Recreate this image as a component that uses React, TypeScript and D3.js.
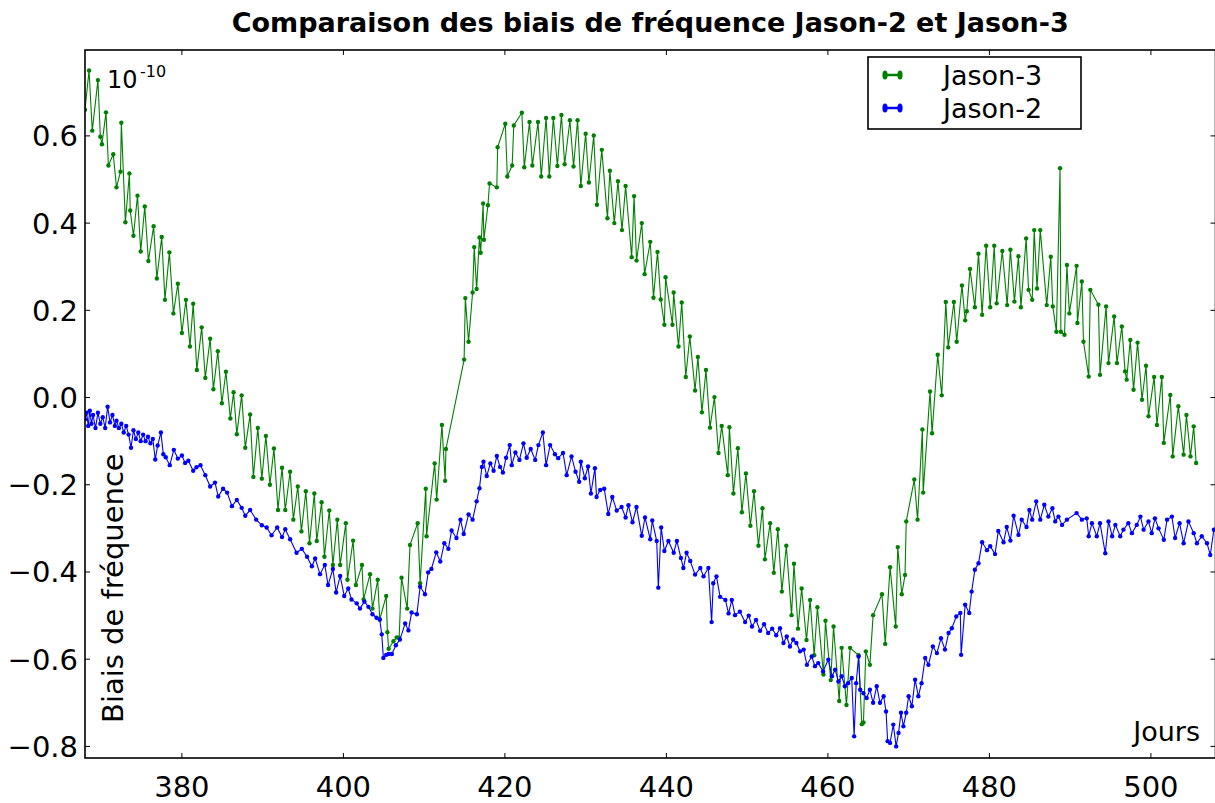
import React from 'react';
import * as d3 from 'd3';

const xTicks = [380, 400, 420, 440, 460, 480, 500];
const yTicks = [-0.8, -0.6, -0.4, -0.2, 0.0, 0.2, 0.4, 0.6];
const xDomain: [number, number] = [368, 508];
const yDomain: [number, number] = [-0.8266, 0.797];

const titleText = 'Comparaison des biais de fréquence Jason-2 et Jason-3';
const seriesNames = ['Jason-3', 'Jason-2'];
const seriesColors = ['#008000', '#0000ff'];

// [jour, biais (x 1e-10)]
const jason3: [number, number][] = [
  [368.0, 0.66], [368.5, 0.75], [368.9, 0.612], [369.6, 0.728], [369.9, 0.598], [370.1, 0.581],
  [370.6, 0.654], [370.9, 0.532], [371.5, 0.558], [371.9, 0.482], [372.4, 0.518], [372.5, 0.63],
  [373.0, 0.402], [373.5, 0.514], [373.6, 0.429], [374.0, 0.371], [374.5, 0.463], [374.9, 0.335],
  [375.4, 0.438], [375.85, 0.313], [376.5, 0.393], [376.9, 0.273], [377.5, 0.368], [377.9, 0.224],
  [378.45, 0.333], [378.95, 0.193], [379.5, 0.261], [380.0, 0.148], [380.5, 0.224], [381.0, 0.117],
  [381.4, 0.215], [381.85, 0.063], [382.45, 0.161], [382.9, 0.045], [383.5, 0.135], [383.9, 0.019],
  [384.45, 0.106], [384.95, -0.013], [385.45, 0.059], [386.0, -0.048], [386.4, 0.012], [386.8, -0.084],
  [387.4, 0.005], [387.85, -0.115], [388.45, -0.039], [388.85, -0.182], [389.4, -0.07], [389.9, -0.186],
  [390.4, -0.088], [390.9, -0.2], [391.4, -0.117], [391.9, -0.258], [392.4, -0.161], [392.8, -0.258],
  [393.4, -0.17], [393.8, -0.28], [394.35, -0.204], [394.8, -0.307], [395.35, -0.215], [395.8, -0.334],
  [396.4, -0.22], [396.7, -0.329], [397.3, -0.24], [397.65, -0.365], [398.25, -0.259], [398.7, -0.384],
  [399.25, -0.28], [399.6, -0.384], [400.3, -0.288], [400.5, -0.418], [401.2, -0.328], [401.55, -0.43],
  [402.3, -0.384], [402.5, -0.463], [403.3, -0.405], [403.6, -0.484], [404.25, -0.418], [404.5, -0.509],
  [405.3, -0.455], [405.45, -0.538], [405.6, -0.576], [406.2, -0.559], [406.6, -0.55], [406.9, -0.551],
  [407.2, -0.413], [407.9, -0.484], [408.25, -0.338], [409.2, -0.288], [409.5, -0.426], [410.2, -0.209],
  [410.3, -0.318], [411.3, -0.151], [411.55, -0.234], [412.2, -0.063], [412.6, -0.191], [412.7, -0.118],
  [414.95, 0.087], [415.1, 0.228], [415.5, 0.128], [416.0, 0.241], [416.2, 0.345], [416.5, 0.249],
  [416.85, 0.367], [417.0, 0.332], [417.3, 0.445], [417.4, 0.362], [417.9, 0.441], [418.1, 0.491],
  [419.0, 0.482], [419.1, 0.574], [420.05, 0.628], [420.3, 0.507], [420.9, 0.532], [421.1, 0.624],
  [422.1, 0.653], [422.4, 0.528], [423.05, 0.632], [423.4, 0.532], [424.1, 0.632], [424.5, 0.507],
  [425.1, 0.641], [425.5, 0.507], [426.0, 0.641], [426.5, 0.531], [427.0, 0.648], [427.4, 0.535],
  [428.05, 0.636], [428.5, 0.53], [429.0, 0.636], [429.4, 0.485], [430.0, 0.605], [430.4, 0.493],
  [431.0, 0.601], [431.4, 0.442], [432.0, 0.568], [432.7, 0.411], [433.0, 0.52], [433.55, 0.4],
  [434.0, 0.496], [434.5, 0.384], [434.95, 0.485], [435.7, 0.322], [436.0, 0.462], [436.3, 0.314],
  [436.95, 0.4], [437.3, 0.283], [438.0, 0.357], [438.4, 0.229], [438.9, 0.334], [439.3, 0.225],
  [439.75, 0.167], [439.9, 0.276], [440.75, 0.167], [440.9, 0.241], [441.5, 0.117], [441.9, 0.218],
  [442.4, 0.047], [442.9, 0.14], [443.55, 0.016], [443.9, 0.093], [444.4, -0.034], [444.9, 0.063],
  [445.4, -0.069], [445.95, 0.001], [446.45, -0.127], [446.85, -0.065], [447.6, -0.178], [447.8, -0.068],
  [448.3, -0.22], [448.85, -0.116], [449.35, -0.263], [449.85, -0.174], [450.4, -0.294], [450.85, -0.215],
  [451.4, -0.34], [451.9, -0.254], [452.2, -0.371], [452.85, -0.288], [453.3, -0.402], [453.8, -0.302],
  [454.3, -0.445], [454.85, -0.34], [455.5, -0.499], [455.8, -0.381], [456.3, -0.53], [456.75, -0.438],
  [457.35, -0.556], [457.8, -0.464], [458.3, -0.591], [458.7, -0.481], [459.45, -0.635], [459.7, -0.512],
  [460.35, -0.648], [460.7, -0.525], [461.4, -0.696], [461.7, -0.574], [462.3, -0.705], [462.75, -0.574],
  [463.8, -0.591], [464.2, -0.749], [464.4, -0.745], [464.7, -0.582], [465.2, -0.613], [465.6, -0.499],
  [466.7, -0.451], [467.1, -0.565], [467.7, -0.389], [468.4, -0.525], [468.65, -0.343], [469.15, -0.451],
  [469.55, -0.407], [469.7, -0.284], [470.7, -0.188], [471.1, -0.28], [471.7, -0.073], [471.8, -0.218],
  [472.65, 0.014], [472.9, -0.082], [473.6, 0.098], [474.1, 0.005], [474.6, 0.219], [474.9, 0.115],
  [475.6, 0.219], [475.95, 0.128], [476.6, 0.257], [477.0, 0.177], [477.2, 0.198], [477.6, 0.295],
  [478.2, 0.207], [478.65, 0.33], [479.1, 0.19], [479.6, 0.348], [480.1, 0.207], [480.6, 0.348],
  [480.9, 0.216], [481.6, 0.336], [482.2, 0.212], [482.6, 0.339], [483.1, 0.22], [483.6, 0.324],
  [483.9, 0.207], [484.55, 0.365], [484.85, 0.247], [485.3, 0.224], [485.55, 0.384], [485.9, 0.25],
  [486.3, 0.384], [487.1, 0.212], [487.6, 0.323], [487.85, 0.209], [488.3, 0.151], [488.75, 0.526],
  [488.85, 0.151], [489.3, 0.144], [489.6, 0.304], [489.9, 0.193], [490.8, 0.302], [490.9, 0.171],
  [491.45, 0.266], [491.65, 0.128], [492.3, 0.048], [492.5, 0.247], [493.5, 0.213], [493.7, 0.052],
  [494.45, 0.209], [494.75, 0.079], [495.45, 0.186], [495.8, 0.079], [496.4, 0.163], [496.8, 0.06],
  [497.0, 0.041], [497.45, 0.132], [497.85, 0.018], [498.35, 0.126], [498.9, -0.005], [499.4, 0.073],
  [499.7, -0.043], [500.4, 0.047], [500.75, -0.063], [501.35, 0.047], [501.6, -0.104], [502.4, 0.006],
  [502.7, -0.135], [503.4, -0.02], [504.05, -0.131], [504.4, -0.04], [504.9, -0.135], [505.3, -0.066],
  [505.6, -0.15],
];

const jason2: [number, number][] = [
  [368.0, -0.05], [368.2, -0.035], [368.4, -0.065], [368.6, -0.03], [368.8, -0.06], [369.0, -0.04],
  [369.3, -0.07], [369.6, -0.035], [369.9, -0.06], [370.2, -0.045], [370.5, -0.07], [370.8, -0.021],
  [371.1, -0.057], [371.4, -0.04], [371.7, -0.065], [371.9, -0.053], [372.2, -0.07], [372.5, -0.06],
  [372.8, -0.08], [373.1, -0.065], [373.4, -0.085], [373.7, -0.115], [374.0, -0.075], [374.3, -0.095],
  [374.6, -0.08], [374.9, -0.1], [375.2, -0.085], [375.5, -0.1], [375.8, -0.09], [376.1, -0.105],
  [376.4, -0.095], [376.7, -0.142], [377.0, -0.11], [377.4, -0.08], [377.7, -0.13], [378.0, -0.137],
  [378.5, -0.155], [379.0, -0.12], [379.5, -0.14], [380.0, -0.133], [380.4, -0.15], [380.8, -0.145],
  [381.4, -0.168], [381.8, -0.16], [382.3, -0.155], [382.9, -0.178], [383.5, -0.204], [384.1, -0.195],
  [384.5, -0.227], [385.1, -0.209], [385.6, -0.218], [386.2, -0.249], [386.8, -0.235], [387.4, -0.253],
  [387.85, -0.271], [388.45, -0.258], [389.2, -0.28], [389.9, -0.293], [390.5, -0.298], [391.1, -0.316],
  [391.8, -0.298], [392.4, -0.32], [392.8, -0.302], [393.4, -0.325], [394.2, -0.356], [394.85, -0.347],
  [395.5, -0.365], [396.1, -0.387], [396.5, -0.369], [397.1, -0.405], [397.7, -0.384], [398.1, -0.43],
  [398.7, -0.393], [399.1, -0.447], [399.6, -0.409], [400.1, -0.455], [400.6, -0.438], [401.0, -0.463],
  [401.65, -0.472], [402.05, -0.484], [402.6, -0.468], [403.1, -0.48], [403.6, -0.497], [404.1, -0.505],
  [404.5, -0.509], [404.75, -0.543], [404.95, -0.597], [405.3, -0.59], [405.6, -0.588], [406.0, -0.588],
  [406.5, -0.568], [407.0, -0.555], [407.65, -0.518], [408.05, -0.534], [408.45, -0.493], [409.1, -0.497],
  [409.5, -0.434], [410.1, -0.451], [410.5, -0.401], [410.9, -0.393], [411.5, -0.355], [412.0, -0.376],
  [412.5, -0.334], [413.0, -0.347], [413.4, -0.305], [414.0, -0.322], [414.5, -0.28], [414.9, -0.313],
  [415.5, -0.268], [416.0, -0.28], [416.5, -0.238], [416.85, -0.208], [417.15, -0.159], [417.35, -0.147],
  [417.75, -0.18], [418.2, -0.151], [418.6, -0.168], [419.0, -0.134], [419.4, -0.159], [419.75, -0.172],
  [420.15, -0.138], [420.6, -0.109], [420.85, -0.155], [421.3, -0.126], [421.8, -0.143], [422.3, -0.105],
  [422.7, -0.138], [423.2, -0.118], [423.75, -0.143], [424.15, -0.109], [424.7, -0.08], [425.1, -0.155],
  [425.6, -0.109], [426.2, -0.13], [426.6, -0.139], [427.2, -0.127], [427.65, -0.178], [428.25, -0.135],
  [428.75, -0.17], [429.2, -0.193], [429.4, -0.147], [429.9, -0.185], [430.3, -0.158], [430.65, -0.22],
  [431.15, -0.162], [431.35, -0.228], [431.8, -0.212], [432.3, -0.209], [432.8, -0.267], [433.3, -0.228],
  [433.85, -0.259], [434.45, -0.251], [434.95, -0.275], [435.3, -0.247], [435.8, -0.286], [436.3, -0.251],
  [436.95, -0.317], [437.35, -0.275], [438.0, -0.325], [438.25, -0.282], [438.8, -0.329], [439.0, -0.436],
  [439.35, -0.298], [439.75, -0.352], [440.25, -0.329], [440.9, -0.356], [441.3, -0.329], [441.8, -0.368],
  [442.1, -0.391], [442.5, -0.356], [442.95, -0.375], [443.55, -0.406], [444.2, -0.391], [444.6, -0.41],
  [445.2, -0.391], [445.6, -0.515], [445.8, -0.426], [446.2, -0.41], [446.65, -0.457], [447.3, -0.464],
  [447.7, -0.495], [448.1, -0.464], [448.5, -0.499], [449.1, -0.491], [449.75, -0.515], [450.2, -0.5],
  [450.6, -0.525], [451.1, -0.51], [451.6, -0.535], [452.1, -0.52], [452.6, -0.54], [453.1, -0.53],
  [453.6, -0.545], [454.07, -0.529], [454.5, -0.563], [454.9, -0.548], [455.3, -0.571], [455.7, -0.555],
  [456.1, -0.563], [456.55, -0.582], [457.0, -0.578], [457.4, -0.613], [458.0, -0.594], [458.4, -0.616],
  [458.8, -0.609], [459.4, -0.628], [460.05, -0.601], [460.5, -0.639], [460.9, -0.624], [461.3, -0.651],
  [461.7, -0.639], [462.1, -0.662], [462.5, -0.655], [462.95, -0.643], [463.25, -0.777], [463.5, -0.655],
  [463.8, -0.594], [464.0, -0.67], [464.4, -0.678], [464.8, -0.689], [465.2, -0.67], [465.6, -0.7],
  [466.05, -0.662], [466.45, -0.7], [466.9, -0.685], [467.2, -0.72], [467.4, -0.788], [467.7, -0.792],
  [468.1, -0.75], [468.45, -0.8], [468.75, -0.769], [469.05, -0.723], [469.35, -0.754], [469.7, -0.723],
  [470.0, -0.685], [470.4, -0.708], [470.8, -0.647], [471.2, -0.685], [471.6, -0.655], [472.05, -0.597],
  [472.45, -0.613], [473.0, -0.571], [473.5, -0.586], [474.0, -0.552], [474.5, -0.578], [474.95, -0.54],
  [475.35, -0.529], [475.9, -0.502], [476.4, -0.494], [476.5, -0.59], [477.0, -0.475], [477.5, -0.494],
  [477.8, -0.445], [478.2, -0.395], [478.65, -0.38], [479.1, -0.332], [479.7, -0.35], [480.1, -0.341],
  [480.7, -0.359], [481.1, -0.306], [481.75, -0.332], [482.15, -0.297], [482.6, -0.328], [483.0, -0.271],
  [483.6, -0.315], [484.0, -0.28], [484.6, -0.297], [484.95, -0.258], [485.3, -0.28], [485.8, -0.238],
  [486.3, -0.28], [486.8, -0.246], [487.3, -0.273], [487.8, -0.254], [488.15, -0.284], [488.55, -0.273],
  [489.0, -0.292], [489.6, -0.28], [490.8, -0.265], [491.45, -0.28], [492.05, -0.277], [492.3, -0.318],
  [492.7, -0.288], [493.3, -0.318], [493.7, -0.288], [494.35, -0.357], [494.75, -0.284], [495.2, -0.318],
  [495.6, -0.292], [496.2, -0.318], [496.6, -0.303], [497.2, -0.288], [497.65, -0.311], [498.25, -0.292],
  [498.7, -0.273], [499.1, -0.303], [499.7, -0.284], [500.1, -0.311], [500.5, -0.277], [500.95, -0.3],
  [501.6, -0.326], [502.0, -0.28], [502.6, -0.273], [503.0, -0.322], [503.55, -0.288], [504.05, -0.334],
  [504.65, -0.284], [505.3, -0.311], [505.7, -0.334], [506.3, -0.318], [506.95, -0.334], [507.35, -0.361],
  [507.8, -0.303],
];

const seriesData = [jason3, jason2];

const FONT = '"DejaVu Sans", "Liberation Sans", sans-serif';

export default function App() {
  const W = 1215;
  const H = 803;
  const left = 85;
  const right = 1215.5;
  const top = 50;
  const bottom = 758;

  const x = d3.scaleLinear().domain(xDomain).range([left, right]);
  const y = d3.scaleLinear().domain(yDomain).range([bottom, top]);
  const line = d3
    .line<[number, number]>()
    .x((d) => x(d[0]))
    .y((d) => y(d[1]));

  const fmt = (v: number) => {
    const s = Math.abs(v) < 1e-9 ? '0.0' : v.toFixed(1);
    return s.replace('-', '\u2212');
  };
  const tickLen = 5;

  return (
    <svg
      width={W}
      height={H}
      viewBox={`0 0 ${W} ${H}`}
      style={{ position: 'absolute', left: 0, top: 0, background: '#ffffff' }}
    >
      <rect x={0} y={0} width={W} height={H} fill="#ffffff" />
      <defs>
        <clipPath id="plotClip">
          <rect x={left} y={top} width={right - left} height={bottom - top} />
        </clipPath>
      </defs>

      <g clipPath="url(#plotClip)">
        {seriesData.map((data, si) => (
          <g key={si}>
            <path d={line(data) || ''} fill="none" stroke={seriesColors[si]} strokeWidth={1.1} />
            {data.map((d, i) => (
              <circle key={i} cx={x(d[0])} cy={y(d[1])} r={2.2} fill={seriesColors[si]} />
            ))}
          </g>
        ))}
      </g>

      {/* spines */}
      <rect x={left} y={top} width={right - left} height={bottom - top} fill="none" stroke="#000" strokeWidth={1.6} />

      {/* x ticks */}
      {xTicks.map((t) => (
        <g key={'x' + t}>
          <line x1={x(t)} x2={x(t)} y1={bottom} y2={bottom - tickLen} stroke="#000" strokeWidth={1} />
          <line x1={x(t)} x2={x(t)} y1={top} y2={top + tickLen} stroke="#000" strokeWidth={1} />
          <text x={x(t)} y={797} textAnchor="middle" fontFamily={FONT} fontSize={29} fill="#000">
            {t}
          </text>
        </g>
      ))}

      {/* y ticks */}
      {yTicks.map((t) => (
        <g key={'y' + t}>
          <line x1={left} x2={left + tickLen} y1={y(t)} y2={y(t)} stroke="#000" strokeWidth={1} />
          <line x1={right} x2={right - tickLen} y1={y(t)} y2={y(t)} stroke="#000" strokeWidth={1} />
          <text x={78} y={y(t)} dy="0.36em" textAnchor="end" fontFamily={FONT} fontSize={29} fill="#000">
            {fmt(t)}
          </text>
        </g>
      ))}

      {/* title */}
      <text x={(left + right) / 2} y={32} textAnchor="middle" fontFamily={FONT} fontSize={27} fontWeight="bold" fill="#000">
        {titleText}
      </text>

      {/* scale factor */}
      <text x={107} y={87.5} fontFamily={FONT} fontSize={24} fill="#000">
        10
      </text>
      <text x={140} y={77} fontFamily={FONT} fontSize={16} fill="#000">
        -10
      </text>

      {/* axis labels */}
      <text transform="translate(123,723) rotate(-90)" fontFamily={FONT} fontSize={29} fill="#000">
        Biais de fréquence
      </text>
      <text x={1200} y={741} textAnchor="end" fontFamily={FONT} fontSize={27} fill="#000">
        Jours
      </text>

      {/* legend */}
      <rect x={868} y={57} width={213} height={72} fill="#ffffff" stroke="#000" strokeWidth={1.6} />
      {seriesNames.map((name, i) => {
        const ly = [75, 108][i];
        return (
          <g key={name}>
            <line x1={885} x2={900} y1={ly} y2={ly} stroke={seriesColors[i]} strokeWidth={2.5} />
            <ellipse cx={885} cy={ly} rx={2.6} ry={4.5} fill={seriesColors[i]} />
            <ellipse cx={900} cy={ly} rx={2.6} ry={4.5} fill={seriesColors[i]} />
            <text x={943} y={ly} dy="0.36em" fontFamily={FONT} fontSize={27} fill="#000">
              {name}
            </text>
          </g>
        );
      })}
    </svg>
  );
}
